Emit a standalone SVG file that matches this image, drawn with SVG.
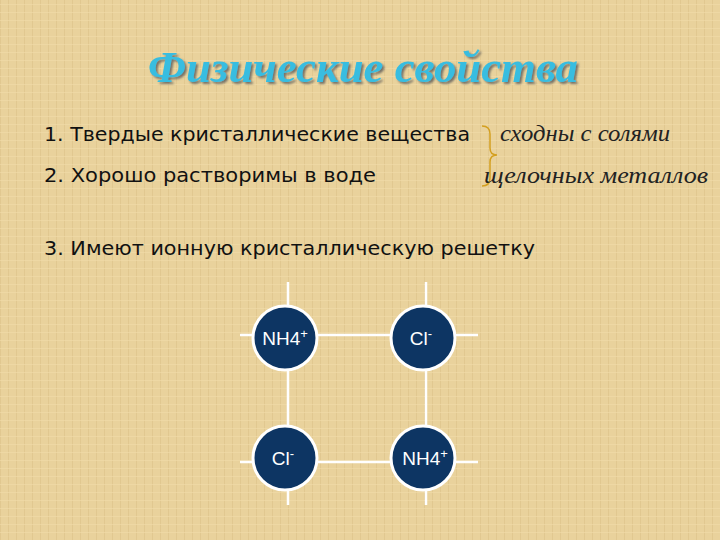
<svg xmlns="http://www.w3.org/2000/svg" width="720" height="540" viewBox="0 0 720 540">
<defs>
<pattern id="tex" width="8" height="8" patternUnits="userSpaceOnUse">
<rect width="8" height="8" fill="#e9d29c"/>
<rect x="0" y="0" width="1" height="8" fill="#dcc189" opacity="0.6"/>
<rect x="0" y="4" width="8" height="1" fill="#f1dcaa" opacity="0.6"/>
</pattern>
<filter id="sh"><feDropShadow dx="2" dy="2" stdDeviation="0.8" flood-color="#5a5a5a" flood-opacity="0.8"/></filter>
</defs>
<style>
.t{font-family:"DejaVu Sans","Noto Sans",sans-serif;font-size:20px;fill:#111}
.i{font-family:"Liberation Serif",serif;font-style:italic;font-size:23px;fill:#222}
.ion{font-family:"Liberation Sans",Arial,sans-serif;font-size:19px;fill:#fff}
.ln{stroke:#fff;stroke-width:2.5}
circle{fill:#0d3563;stroke:#fff;stroke-width:3}
</style>
<rect width="720" height="540" fill="url(#tex)"/>
<text x="148" y="82" textLength="430" lengthAdjust="spacingAndGlyphs" font-family="'Liberation Serif',serif" font-style="italic" font-weight="bold" font-size="44" fill="#39bde0" filter="url(#sh)">Физические свойства</text>
<text class="t" x="44" y="141" textLength="426" lengthAdjust="spacingAndGlyphs">1. Твердые кристаллические вещества</text>
<text class="t" x="44" y="182" textLength="332" lengthAdjust="spacingAndGlyphs">2. Хорошо растворимы в воде</text>
<text class="t" x="44" y="255" textLength="491" lengthAdjust="spacingAndGlyphs">3. Имеют ионную кристаллическую решетку</text>
<path d="M482,126 Q490,126 490,134 L490,148 Q490,155 497,155 Q490,155 490,162 L490,178 Q490,186 482,186" fill="none" stroke="#d4a020" stroke-width="1.5"/>
<text class="i" x="500" y="141" textLength="170" lengthAdjust="spacingAndGlyphs">сходны с солями</text>
<text class="i" x="484" y="183" textLength="224" lengthAdjust="spacingAndGlyphs">щелочных металлов</text>
<g id="connectors">
<line class="ln" x1="288" y1="282" x2="288" y2="505"/>
<line class="ln" x1="426" y1="282" x2="426" y2="505"/>
<line class="ln" x1="240" y1="335" x2="478" y2="335"/>
<line class="ln" x1="240" y1="462" x2="478" y2="462"/>
</g>
<g id="n1"><circle cx="285" cy="338" r="32"/><text class="ion" x="285" y="345" text-anchor="middle">NH4<tspan dy="-7" font-size="13">+</tspan></text></g>
<g id="n2"><circle cx="423" cy="338" r="32"/><text class="ion" x="421" y="345" text-anchor="middle">Cl<tspan dy="-7" font-size="13">-</tspan></text></g>
<g id="n3"><circle cx="285" cy="458" r="32"/><text class="ion" x="283" y="465" text-anchor="middle">Cl<tspan dy="-7" font-size="13">-</tspan></text></g>
<g id="n4"><circle cx="423" cy="458" r="32"/><text class="ion" x="425" y="465" text-anchor="middle">NH4<tspan dy="-7" font-size="13">+</tspan></text></g>
</svg>
